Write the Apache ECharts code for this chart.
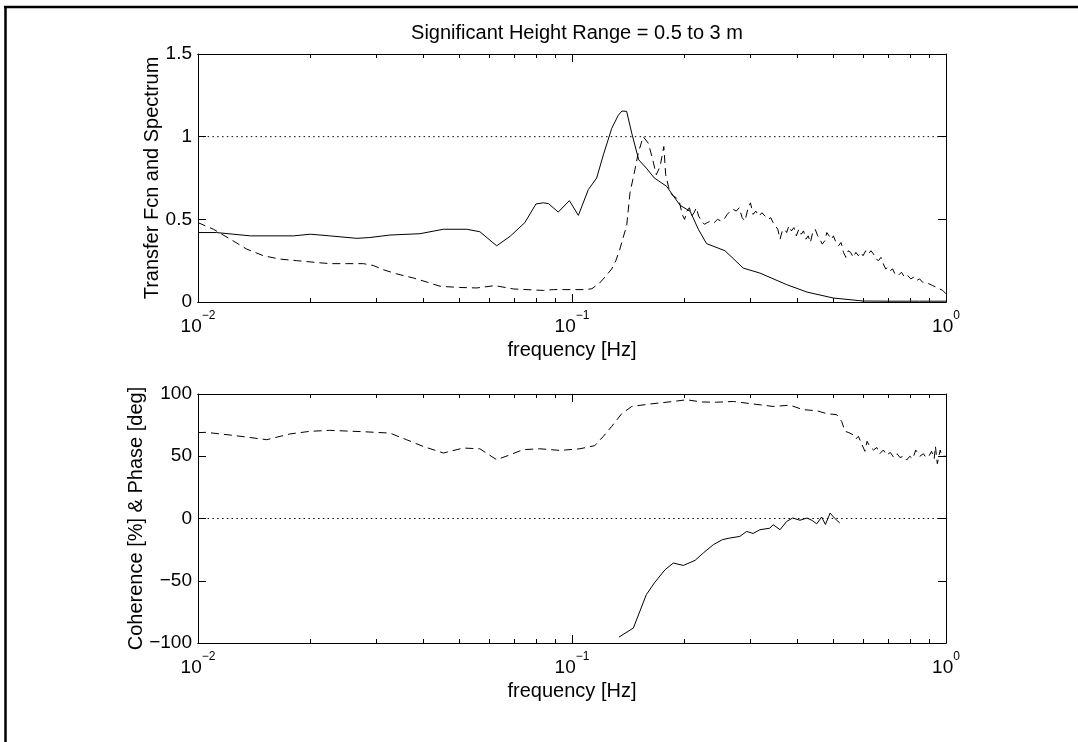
<!DOCTYPE html>
<html><head><meta charset="utf-8">
<script src="https://cdn.jsdelivr.net/npm/echarts@6/dist/echarts.min.js"></script>
<style>html,body{margin:0;padding:0;background:#fff}#c{width:1078px;height:742px}</style>
</head><body><div id="c"></div>
<script>
// ---------- data ----------
const titleText = 'Significant Height Range = 0.5 to 3 m';
const xName = 'frequency [Hz]';
const topYName = 'Transfer Fcn and Spectrum';
const botYName = 'Coherence [%] & Phase [deg]';
const xMajorTicks = [0.01, 0.1, 1];
const xMinorTicks = [0.02,0.03,0.04,0.05,0.06,0.07,0.08,0.09,0.2,0.3,0.4,0.5,0.6,0.7,0.8,0.9];
const topYTicks = [0, 0.5, 1, 1.5];
const botYTicks = [-100, -50, 0, 50, 100];
const refLineTop = [[0.01, 1], [1, 1]];
const refLineBot = [[0.01, 0], [1, 0]];

// top panel, solid (transfer function)
const topSolidFreq = [0.01,0.0112,0.0138,0.018,0.02,0.0225,0.0266,0.0288,0.0326,0.0392,0.0453,0.0523,0.0567,0.0629,0.0683,0.0748,0.0801,0.0838,0.0865,0.0919,0.0984,0.104,0.1106,0.1164,0.1213,0.1277,0.133,0.136,0.14,0.1445,0.1508,0.158,0.166,0.179,0.1945,0.207,0.218,0.229,0.2565,0.287,0.318,0.375,0.425,0.5,0.6,0.7,0.85,1.0];
const topSolidVal  = [0.42,0.42,0.40,0.40,0.41,0.40,0.385,0.39,0.405,0.413,0.44,0.44,0.425,0.34,0.397,0.48,0.593,0.60,0.595,0.544,0.613,0.524,0.68,0.75,0.89,1.05,1.13,1.155,1.153,1.02,0.86,0.81,0.75,0.70,0.585,0.548,0.437,0.353,0.31,0.205,0.175,0.105,0.06,0.024,0.006,0.005,0.005,0.005];

// top panel, dashed (spectrum)
const topDashFreq = [0.01,0.011,0.0122,0.0135,0.01495,0.0165,0.01835,0.0205,0.0225,0.025,0.0277,0.0295,0.0313,0.034,0.0377,0.041,0.0444,0.05,0.0556,0.0622,0.0697,0.0838,0.0891,0.1,0.108,0.113,0.1186,0.1235,0.1277,0.131,0.1343,0.137,0.14,0.1429,0.1473,0.1503,0.155,0.16,0.164,0.168,0.172,0.176,0.178,0.181,0.183,0.187,0.19,0.194,0.197,0.2,0.203,0.206,0.209,0.212,0.215,0.218,0.222,0.226,0.23,0.235,0.24,0.245,0.25,0.255,0.26,0.265,0.27,0.275,0.28,0.285,0.29,0.295,0.3,0.305,0.31,0.316,0.322,0.328,0.335,0.34,0.345,0.35,0.355,0.36,0.365,0.37,0.375,0.38,0.386,0.392,0.398,0.404,0.41,0.416,0.422,0.428,0.434,0.44,0.447,0.454,0.46,0.467,0.474,0.48,0.487,0.494,0.5,0.508,0.516,0.524,0.532,0.54,0.548,0.556,0.565,0.574,0.583,0.592,0.6,0.61,0.62,0.63,0.64,0.65,0.66,0.67,0.68,0.69,0.7,0.71,0.72,0.73,0.745,0.76,0.775,0.79,0.805,0.82,0.835,0.85,0.865,0.88,0.9,0.92,0.94,0.96,0.98,1.0];
const topDashVal  = [0.48,0.44,0.38,0.32,0.28,0.26,0.25,0.24,0.232,0.232,0.232,0.22,0.195,0.17,0.145,0.12,0.095,0.088,0.085,0.099,0.079,0.07,0.075,0.075,0.075,0.08,0.115,0.16,0.2,0.25,0.32,0.39,0.46,0.66,0.80,0.90,1.0,0.96,0.87,0.77,0.82,0.94,0.77,0.70,0.66,0.64,0.63,0.60,0.53,0.50,0.55,0.57,0.52,0.54,0.57,0.52,0.49,0.47,0.48,0.49,0.48,0.50,0.49,0.50,0.53,0.55,0.56,0.55,0.57,0.51,0.49,0.56,0.60,0.53,0.55,0.52,0.54,0.52,0.50,0.51,0.48,0.46,0.44,0.38,0.43,0.44,0.42,0.46,0.43,0.45,0.40,0.44,0.41,0.43,0.38,0.40,0.36,0.42,0.44,0.40,0.38,0.35,0.37,0.42,0.40,0.38,0.40,0.36,0.34,0.36,0.30,0.27,0.31,0.30,0.27,0.30,0.28,0.30,0.28,0.31,0.29,0.31,0.29,0.26,0.25,0.27,0.23,0.20,0.21,0.19,0.20,0.17,0.16,0.18,0.15,0.16,0.14,0.15,0.13,0.14,0.12,0.12,0.11,0.10,0.09,0.08,0.07,0.05];

// bottom panel, dashed (coherence)
const botDashFreq = [0.01,0.0105,0.0124,0.01527,0.0176,0.0199,0.0225,0.0277,0.0326,0.0361,0.04,0.0453,0.0512,0.0567,0.0629,0.0683,0.074,0.082,0.093,0.105,0.115,0.1213,0.1277,0.1358,0.1445,0.162,0.1866,0.2025,0.2216,0.2437,0.27,0.305,0.345,0.383,0.415,0.451,0.48,0.51,0.526,0.537,0.55,0.566,0.575,0.583,0.595,0.607,0.615,0.625,0.64,0.653,0.665,0.68,0.694,0.71,0.725,0.74,0.753,0.77,0.785,0.8,0.815,0.83,0.851,0.87,0.885,0.9,0.915,0.93,0.937,0.948,0.957,0.965,0.975,0.986,1.0];
const botDashVal  = [69,69.2,66.8,63.3,67.9,70,70.8,69.7,68.6,63.3,57.9,52.6,56.6,56,47.2,51.2,55.3,56,54.7,56,58.5,66,74,84.2,90,92,94,95.4,93.6,93.4,94,92,90,91,87.4,86.6,84.2,83.4,78,70,69,67,64,66,60,54,62,58,55,57,52,55,51,53,49,52,49,50,47,50,48,55,50,52,49,50,54,48,58,44,43,55,50,49,50];

// bottom panel, solid (phase)
const botSolidFreq = [0.1336,0.1459,0.158,0.166,0.1774,0.1866,0.1986,0.2134,0.2244,0.2388,0.2523,0.264,0.281,0.293,0.305,0.318,0.338,0.345,0.36,0.375,0.389,0.407,0.425,0.439,0.451,0.465,0.476,0.49,0.503,0.52];
const botSolidVal  = [-95.2,-88,-61.2,-51.8,-41.1,-35.8,-37.7,-33.6,-27.7,-21,-17,-15.7,-14.4,-10.4,-12,-9,-7.8,-5,-9,-2.3,0.4,-1.4,0.4,-1.6,-4.3,1.2,-4.8,4.4,0.4,-3.6];

// ---------- build ----------
const zip = (a, b) => a.map((v, i) => [v, b[i]]);
const FONT = 'Liberation Sans';
function logLabel(v) {
  const e = Math.round(Math.log10(v));
  return '{b|10}{s|' + String(e).replace('-', '\u2212') + '}';
}
const richX = {
  b: {fontFamily: FONT, fontSize: 19, lineHeight: 26, verticalAlign: 'bottom', color: '#000'},
  s: {fontFamily: FONT, fontSize: 12, lineHeight: 12, verticalAlign: 'top', color: '#000'}
};
const lineCol = '#000';

function xAx(grid, pos, ticks, len, labels) {
  return {
    type: 'log', logBase: 10, min: 0.01, max: 1, gridIndex: grid, position: pos,
    axisLine: {show: true, onZero: false, lineStyle: {color: lineCol, width: 1}},
    axisTick: {show: true, inside: true, length: len, customValues: ticks, lineStyle: {color: lineCol, width: 1}},
    axisLabel: labels ? {show: true, customValues: xMajorTicks, formatter: logLabel, rich: richX, margin: 8} : {show: false},
    splitLine: {show: false}, minorTick: {show: false},
    name: labels ? xName : '', nameLocation: 'middle', nameGap: 38, nameMoveOverlap: false,
    nameTextStyle: {fontFamily: FONT, fontSize: 20, color: '#000'}
  };
}
function yAx(grid, pos, min, max, interval, labels, name, gap) {
  return {
    type: 'value', min: min, max: max, interval: interval, gridIndex: grid, position: pos,
    axisLine: {show: true, onZero: false, lineStyle: {color: lineCol, width: 1}},
    axisTick: {show: true, inside: true, length: 8, lineStyle: {color: lineCol, width: 1}},
    axisLabel: labels ? {show: true, margin: 6, fontFamily: FONT, fontSize: 19, color: '#000',
      formatter: v => String(v).replace('-', '\u2212')} : {show: false},
    splitLine: {show: false},
    name: labels ? name : '', nameLocation: 'middle', nameRotate: 90, nameGap: gap, nameMoveOverlap: false,
    nameTextStyle: {fontFamily: FONT, fontSize: 20, color: '#000'}
  };
}
function ser(data, xi, yi, dash) {
  return {type: 'line', data: data, xAxisIndex: xi, yAxisIndex: yi, showSymbol: false, symbol: 'none',
    silent: true, animation: false, clip: true,
    lineStyle: {color: '#000', width: 1, type: dash}};
}
const dashed = [8, 5];
const dotted = [1.5, 3.3];

const option = {
  backgroundColor: '#fff',
  animation: false,
  title: {text: titleText, left: 572, top: 18, textAlign: 'center',
    textStyle: {fontFamily: FONT, fontSize: 20, fontWeight: 'normal', color: '#000'}},
  grid: [
    {left: 198, top: 54, width: 748, height: 248, containLabel: false, outerBoundsMode: 'none'},
    {left: 198, top: 394, width: 748, height: 249, containLabel: false, outerBoundsMode: 'none'}
  ],
  xAxis: [
    xAx(0, 'bottom', xMajorTicks, 8, true),
    xAx(0, 'bottom', xMinorTicks, 4, false),
    xAx(0, 'top', xMajorTicks, 8, false),
    xAx(0, 'top', xMinorTicks, 4, false),
    xAx(1, 'bottom', xMajorTicks, 8, true),
    xAx(1, 'bottom', xMinorTicks, 4, false),
    xAx(1, 'top', xMajorTicks, 8, false),
    xAx(1, 'top', xMinorTicks, 4, false)
  ],
  yAxis: [
    yAx(0, 'left', topYTicks[0], topYTicks[topYTicks.length-1], 0.5, true, topYName, 36),
    yAx(0, 'right', topYTicks[0], topYTicks[topYTicks.length-1], 0.5, false, '', 0),
    yAx(1, 'left', botYTicks[0], botYTicks[botYTicks.length-1], 50, true, botYName, 52),
    yAx(1, 'right', botYTicks[0], botYTicks[botYTicks.length-1], 50, false, '', 0)
  ],
  graphic: [
    {type: 'line', shape: {x1: 4, y1: 7, x2: 1078, y2: 7}, style: {stroke: '#000', lineWidth: 2.5}},
    {type: 'line', shape: {x1: 5.5, y1: 6, x2: 5.5, y2: 742}, style: {stroke: '#000', lineWidth: 2.5}}
  ],
  series: [
    ser(refLineTop, 0, 0, dotted),
    ser(zip(topSolidFreq, topSolidVal), 0, 0, 'solid'),
    ser(zip(topDashFreq, topDashVal), 0, 0, dashed),
    ser(refLineBot, 4, 2, dotted),
    ser(zip(botDashFreq, botDashVal), 4, 2, dashed),
    ser(zip(botSolidFreq, botSolidVal), 4, 2, 'solid')
  ]
};
const chart = echarts.init(document.getElementById('c'), null, {renderer: 'canvas'});
chart.setOption(option);
</script></body></html>
